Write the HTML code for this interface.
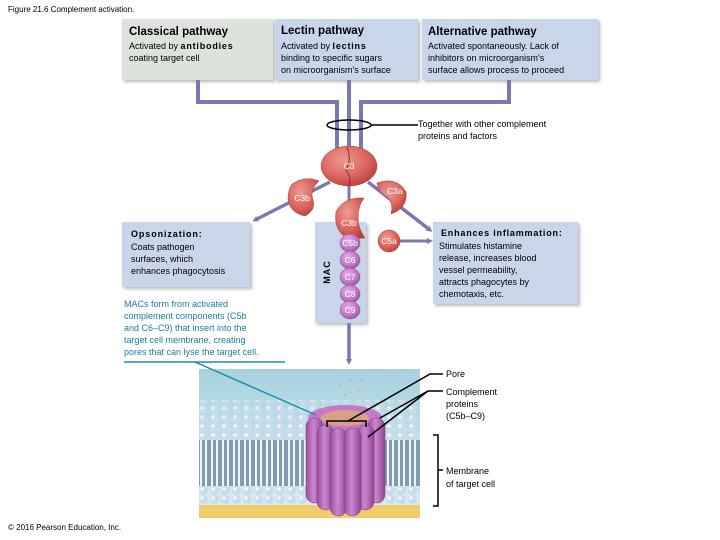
<!DOCTYPE html>
<html><head><meta charset="utf-8"><style>
body{margin:0;width:720px;height:540px;background:#fff;overflow:hidden}
svg{display:block}
text{font-family:"Liberation Sans",sans-serif}
</style></head><body>
<svg width="720" height="540" viewBox="0 0 720 540" xmlns="http://www.w3.org/2000/svg">
<defs>
<filter id="sh" x="-5%" y="-5%" width="115%" height="120%"><feDropShadow dx="2" dy="2" stdDeviation="1.5" flood-color="#888" flood-opacity="0.6"/></filter>
<radialGradient id="red" cx="40%" cy="35%" r="70%"><stop offset="0" stop-color="#f09a94"/><stop offset="0.6" stop-color="#dc6560"/><stop offset="1" stop-color="#b8403c"/></radialGradient>
<radialGradient id="pur" cx="40%" cy="35%" r="70%"><stop offset="0" stop-color="#e8b0e8"/><stop offset="0.6" stop-color="#c27ac6"/><stop offset="1" stop-color="#9a559e"/></radialGradient>
<linearGradient id="sky" x1="0" y1="0" x2="0" y2="1"><stop offset="0" stop-color="#a8d2de"/><stop offset="1" stop-color="#dceef2"/></linearGradient>
<linearGradient id="col" x1="0" y1="0" x2="1" y2="0"><stop offset="0" stop-color="#9a4c9e"/><stop offset="0.45" stop-color="#cc86cf"/><stop offset="1" stop-color="#8d448f"/></linearGradient>
<marker id="ar" markerWidth="6" markerHeight="6" refX="3" refY="3" orient="auto" markerUnits="userSpaceOnUse"><path d="M0,0 L6,3 L0,6 z" fill="#7a78b0"/></marker>
<pattern id="heads" width="11" height="9" patternUnits="userSpaceOnUse"><circle cx="5.5" cy="4.5" r="4.5" fill="#c9dcec"/><circle cx="4" cy="3" r="1.8" fill="#f4f8fc"/></pattern>
<pattern id="tails" width="11" height="20" patternUnits="userSpaceOnUse"><rect width="11" height="20" fill="#7f9cb0"/><rect x="2" width="2" height="20" fill="#f2f6f8"/><rect x="7" width="2" height="20" fill="#f2f6f8"/></pattern>
</defs>

<text x="8" y="12" font-size="8" fill="#000">Figure 21.6 Complement activation.</text>

<rect x="122" y="19" width="151" height="61" fill="#dde3dc" filter="url(#sh)"/>
<rect x="275" y="19" width="143" height="61" fill="#c9d6ea" filter="url(#sh)"/>
<rect x="422" y="19" width="176" height="61" fill="#c9d6ea" filter="url(#sh)"/>
<text x="129" y="35" font-size="11.5" font-weight="bold">Classical pathway</text>
<text x="129" y="49" font-size="9">Activated by <tspan font-weight="bold" letter-spacing="0.8">antibodies</tspan></text>
<text x="129" y="61" font-size="9">coating target cell</text>
<text x="281" y="34" font-size="11.5" font-weight="bold">Lectin pathway</text>
<text x="281" y="49" font-size="9">Activated by <tspan font-weight="bold" letter-spacing="0.8">lectins</tspan></text>
<text x="281" y="61" font-size="9">binding to specific sugars</text>
<text x="281" y="73" font-size="9">on microorganism's surface</text>
<text x="428" y="35" font-size="11.5" font-weight="bold">Alternative pathway</text>
<text x="428" y="49" font-size="9">Activated spontaneously. Lack of</text>
<text x="428" y="61" font-size="9">inhibitors on microorganism's</text>
<text x="428" y="73" font-size="9">surface allows process to proceed</text>

<g fill="none" stroke="#7a78b0" stroke-width="4">
<path d="M198,80 V102 H337 V152" marker-end="url(#ar)"/>
<path d="M349,80 V152" marker-end="url(#ar)"/>
<path d="M509,80 V102 H361 V152" marker-end="url(#ar)"/>
<path d="M330,182 L255,220" stroke-width="3.5" marker-end="url(#ar)"/>
<path d="M368,182 L430,230" stroke-width="3.5" marker-end="url(#ar)"/>
<path d="M400,241 H430" stroke-width="3" marker-end="url(#ar)"/>
<path d="M349,182 V205" stroke-width="3"/>
<path d="M349,320 V362" stroke-width="3.5" marker-end="url(#ar)"/>
</g>
<ellipse cx="349" cy="125" rx="22" ry="5" fill="none" stroke="#000" stroke-width="1.5"/>
<line x1="371" y1="125" x2="418" y2="125" stroke="#000" stroke-width="1.5"/>
<text x="418" y="127" font-size="9">Together with other complement</text>
<text x="418" y="139" font-size="9">proteins and factors</text>

<rect x="122" y="222" width="128" height="65" fill="#c9d6ea" filter="url(#sh)"/>
<text x="131" y="237" font-size="9" font-weight="bold" letter-spacing="0.9">Opsonization:</text>
<text x="131" y="250" font-size="9">Coats pathogen</text>
<text x="131" y="262" font-size="9">surfaces, which</text>
<text x="131" y="274" font-size="9">enhances phagocytosis</text>

<rect x="433" y="222" width="145" height="82" fill="#c9d6ea" filter="url(#sh)"/>
<text x="441" y="236" font-size="9" font-weight="bold" letter-spacing="0.8">Enhances inflammation:</text>
<text x="439" y="249" font-size="9">Stimulates histamine</text>
<text x="439" y="261" font-size="9">release, increases blood</text>
<text x="439" y="273" font-size="9">vessel permeability,</text>
<text x="439" y="285" font-size="9">attracts phagocytes by</text>
<text x="439" y="297" font-size="9">chemotaxis, etc.</text>

<rect x="315" y="222" width="51" height="101" fill="#c9d6ea" filter="url(#sh)"/>
<text x="330" y="272" font-size="9" font-weight="bold" transform="rotate(-90 330 272)" text-anchor="middle" letter-spacing="1">MAC</text>

<g stroke="#a0403c" stroke-width="0.5" fill="url(#red)">
<ellipse cx="349" cy="166" rx="28" ry="20"/>
<path d="M347,147 Q352,160 346,170 Q352,178 349,186" fill="none" stroke="#8a3030" stroke-width="1"/>
<path d="M292,184 Q305,175 319,181 Q309,190 313,200 Q316,210 305,216 Q290,213 288,199 Q288,190 292,184z"/>
<path d="M377,183 Q397,176 406,192 Q408,208 391,214 Q394,203 387,197 Q378,192 377,183z"/>
<path d="M364,198 Q343,197 336,212 Q333,230 348,239 L365,238 Q358,228 358,218 Q358,206 364,198z"/>
<circle cx="389" cy="241" r="11"/>
</g>
<g stroke="#8a4a8e" stroke-width="0.5" fill="url(#pur)">
<ellipse cx="350" cy="243" rx="10" ry="9"/>
<ellipse cx="350" cy="260" rx="10" ry="9"/>
<ellipse cx="350" cy="277" rx="10" ry="9"/>
<ellipse cx="350" cy="294" rx="10" ry="9"/>
<ellipse cx="350" cy="310" rx="10" ry="9"/>
</g>
<g font-size="8.5" fill="#fff" text-anchor="middle">
<text x="349" y="169">C3</text>
<text x="302" y="201">C3b</text>
<text x="395" y="194">C3a</text>
<text x="349" y="226">C3b</text>
<text x="389" y="244">C5a</text>
<text x="350" y="246">C5b</text>
<text x="350" y="263">C6</text>
<text x="350" y="280">C7</text>
<text x="350" y="297">C8</text>
<text x="350" y="313">C9</text>
</g>

<g font-size="9" fill="#1a7f9a">
<text x="124" y="307">MACs form from activated</text>
<text x="124" y="319">complement components (C5b</text>
<text x="124" y="331">and C6–C9) that insert into the</text>
<text x="124" y="343">target cell membrane, creating</text>
<text x="124" y="355">pores that can lyse the target cell.</text>
</g>

<rect x="199" y="369" width="221" height="149" fill="url(#sky)"/>
<rect x="199" y="505" width="221" height="13" fill="#f2cc6a"/>
<rect x="199" y="400" width="221" height="20" fill="url(#heads)" opacity="0.8"/>
<rect x="199" y="418" width="221" height="20" fill="url(#heads)"/>
<rect x="199" y="440" width="221" height="22" fill="url(#tails)"/>
<rect x="199" y="462" width="221" height="24" fill="url(#tails)"/>
<rect x="199" y="486" width="221" height="18" fill="url(#heads)"/>
<g fill="#c9a080" opacity="0.7">
<circle cx="340" cy="385" r="1"/><circle cx="350" cy="380" r="1"/><circle cx="358" cy="390" r="1"/><circle cx="345" cy="395" r="1"/><circle cx="362" cy="380" r="1"/><circle cx="336" cy="398" r="1"/><circle cx="355" cy="400" r="1"/>
</g>
<ellipse cx="345" cy="418" rx="37" ry="13" fill="#c478c6"/>
<ellipse cx="345" cy="418" rx="24" ry="8" fill="#d9a088"/>
<g fill="url(#col)" stroke="#7a3c7c" stroke-width="0.5">
<rect x="306" y="418" width="17" height="85" rx="8.5"/>
<rect x="368" y="418" width="17" height="85" rx="8.5"/>
<rect x="317" y="425" width="17" height="85" rx="8.5"/>
<rect x="357" y="425" width="17" height="85" rx="8.5"/>
<rect x="330" y="428" width="17" height="88" rx="8.5"/>
<rect x="344" y="428" width="17" height="88" rx="8.5"/>
</g>
<path d="M327,427 V421 H366 V427" fill="none" stroke="#000" stroke-width="1.5"/>

<line x1="124" y1="362" x2="285" y2="362" stroke="#1a8fb0" stroke-width="1.5"/>
<line x1="195" y1="362" x2="316" y2="415" stroke="#1a8fb0" stroke-width="1.5"/>
<g stroke="#000" stroke-width="1.5" fill="none">
<path d="M348,421 L430,374 H443"/>
<path d="M380,418 L428,391 H443"/>
<path d="M368,437 L428,391"/>
<path d="M433,435 H438 V506 H433"/>
<path d="M438,470 H443"/>
</g>
<g font-size="9">
<text x="446" y="377">Pore</text>
<text x="446" y="395">Complement</text>
<text x="446" y="407">proteins</text>
<text x="446" y="419">(C5b–C9)</text>
<text x="446" y="474">Membrane</text>
<text x="446" y="487">of target cell</text>
</g>
<text x="8" y="530" font-size="8">© 2016 Pearson Education, Inc.</text>
</svg>
</body></html>
